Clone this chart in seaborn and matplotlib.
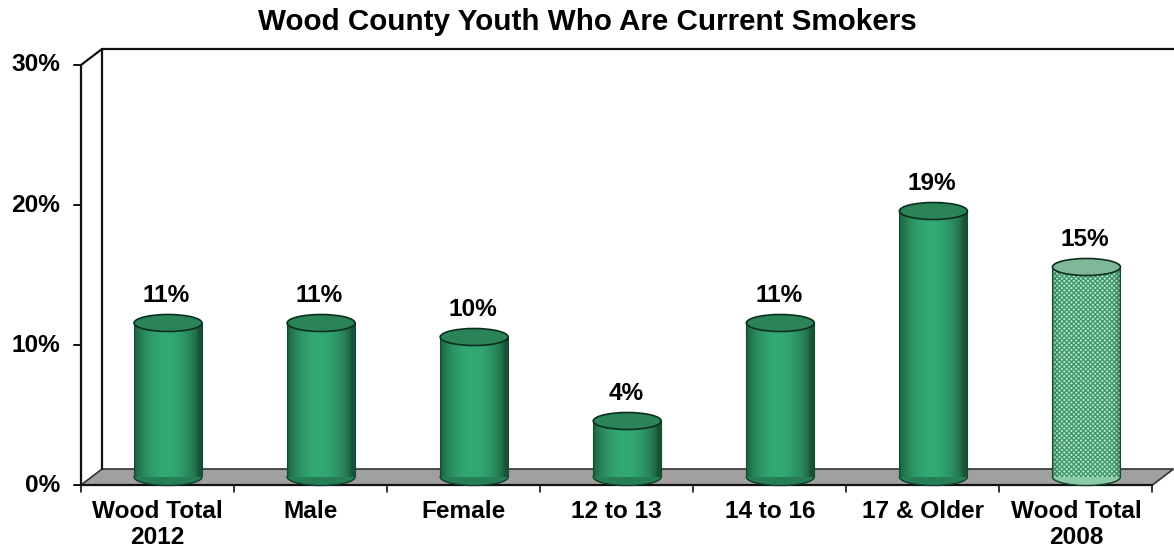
import numpy as np
import pandas as pd
import matplotlib
matplotlib.use("Agg")
import matplotlib.pyplot as plt
from matplotlib.patches import Ellipse, Polygon, Rectangle
import seaborn as sns

# ---- data ----
categories = ["Wood Total\n2012", "Male", "Female", "12 to 13", "14 to 16", "17 & Older", "Wood Total\n2008"]
values = [11, 11, 10, 4, 11, 19, 15]
value_labels = ["11%", "11%", "10%", "4%", "11%", "19%", "15%"]
y_ticks = [0, 10, 20, 30]
y_tick_labels = ["0%", "10%", "20%", "30%"]
title = "Wood County Youth Who Are Current Smokers"

sns.set_theme(style="white")
plt.rcParams["font.family"] = ["Liberation Sans", "DejaVu Sans"]
plt.rcParams["font.weight"] = "bold"

W, H = 1174, 552
fig = plt.figure(figsize=(W / 100, H / 100), dpi=100)
fig.patch.set_facecolor("white")
# middle depth plane of the 3D box
ax = fig.add_axes([91.5 / W, (H - 477) / H, (1163 - 91.5) / W, 420 / H])

df = pd.DataFrame({"cat": categories, "val": values})
bw = 0.444
sns.barplot(data=df, x="cat", y="val", ax=ax, width=bw, color="#30a06c",
            saturation=1, order=categories, zorder=3)

ax.set_xlim(-0.5, 6.5)
ax.set_ylim(0, 30)
ax.axis("off")

px_x = 1071.5 / 7.0   # pixels per category
px_y = 14.0           # pixels per percent
dx = 10.5 / px_x
dy = 8.0 / px_y

FS = 17.6
lc = "#111111"
# floor
floor = Polygon([(-0.5 - dx, -dy), (6.5 - dx, -dy), (6.5 + dx, dy), (-0.5 + dx, dy)],
                closed=True, facecolor="#a0a0a0", edgecolor="#333333", lw=1.2,
                zorder=1, clip_on=False)
ax.add_patch(floor)
# walls
ax.plot([-0.5 - dx, -0.5 - dx], [-dy, 30 - dy], color=lc, lw=1.6, zorder=2, clip_on=False)
ax.plot([-0.5 - dx, -0.5 + dx], [30 - dy, 30 + dy], color=lc, lw=1.6, zorder=2, clip_on=False)
ax.plot([-0.5 + dx, -0.5 + dx], [dy, 30 + dy], color=lc, lw=1.6, zorder=2, clip_on=False)
ax.plot([-0.5 + dx, 6.5 + dx + 0.1], [30 + dy, 30 + dy], color=lc, lw=1.6, zorder=2, clip_on=False)
# front axis line
ax.plot([-0.5 - dx, 6.5 - dx], [-dy, -dy], color=lc, lw=1.6, zorder=2, clip_on=False)
# y ticks
for v, lab in zip(y_ticks, y_tick_labels):
    ax.plot([-0.5 - dx - 7 / px_x, -0.5 - dx], [v - dy, v - dy], color=lc, lw=1.4,
            zorder=2, clip_on=False)
    ax.text(-0.5 - dx - 21 / px_x, v - dy, lab, ha="right", va="center",
            fontsize=FS, fontweight="bold", color="black", clip_on=False)
# x ticks
for k in range(8):
    xk = k - 0.5 - dx
    ax.plot([xk, xk], [-dy, -dy - 7 / px_y], color=lc, lw=1.2, zorder=2, clip_on=False)
for i, c in enumerate(categories):
    ax.text(i - dx, -dy - 15 / px_y, c, ha="center", va="top", fontsize=FS,
            fontweight="bold", color="black", linespacing=1.15, clip_on=False)

# cylinder shading
t = np.linspace(0, 1, 200)
shade = 0.52 + 0.55 * np.sin(np.pi * np.clip(t * 1.05, 0, 1)) ** 0.6
shade = np.clip(shade, 0, 1.08)
base = np.array([0.185, 0.62, 0.42])
grad = np.clip(base[None, None, :] * shade[None, :, None], 0, 1)

eh = 17.0 / px_y  # ellipse height in data units
patches = list(ax.patches)
bars = [p for p in patches if isinstance(p, Rectangle)]
for i, p in enumerate(bars):
    x0 = p.get_x()
    w = p.get_width()
    v = p.get_height()
    xc = x0 + w / 2
    if i < len(values) - 1:
        ax.imshow(grad, extent=(x0, x0 + w, 0, v), aspect="auto", zorder=4,
                  interpolation="bilinear")
        bottom_col = tuple(base * 0.8)
        top_col = "#2a8458"
    else:
        p.set_facecolor("#bfe8cf")
        hatch = Rectangle((x0, 0), w, v, facecolor="none", edgecolor="#3f9a6c",
                          lw=0, hatch="xxxxxxx", zorder=4)
        ax.add_patch(hatch)
        # side darkening
        side = np.zeros((1, 200, 4))
        side[..., :3] = 0.1
        side[0, :, 3] = np.clip(0.35 - 0.6 * np.sin(np.pi * t) ** 0.5, 0, 1)
        ax.imshow(side, extent=(x0, x0 + w, 0, v), aspect="auto", zorder=4.5,
                  interpolation="bilinear")
        bottom_col = "#8cc9a7"
        top_col = "#7fb898"
    p.set_edgecolor("none")
    ax.add_patch(Ellipse((xc, 0), w, eh, facecolor=bottom_col, edgecolor="#0f3d27",
                         lw=1.0, zorder=2.5, clip_on=False))
    ax.add_patch(Ellipse((xc, v), w, eh, facecolor=top_col, edgecolor="#0c2e1e",
                         lw=1.2, zorder=6, clip_on=False))
    ax.plot([x0, x0], [0, v], color="#124a30", lw=0.8, zorder=5)
    ax.plot([x0 + w, x0 + w], [0, v], color="#124a30", lw=0.8, zorder=5)
    ax.text(xc - 1.5 / px_x, v + 27 / px_y, value_labels[i], ha="center", va="center",
            fontsize=FS, fontweight="bold", color="black", zorder=7, clip_on=False)

ax.set_xlim(-0.5, 6.5)
ax.set_ylim(0, 30)

fig.text(0.5, 1 - 22 / H, title, ha="center", va="center", fontsize=21.3,
         fontweight="bold", color="black")

fig.savefig("out.png", dpi=100, facecolor="white")
